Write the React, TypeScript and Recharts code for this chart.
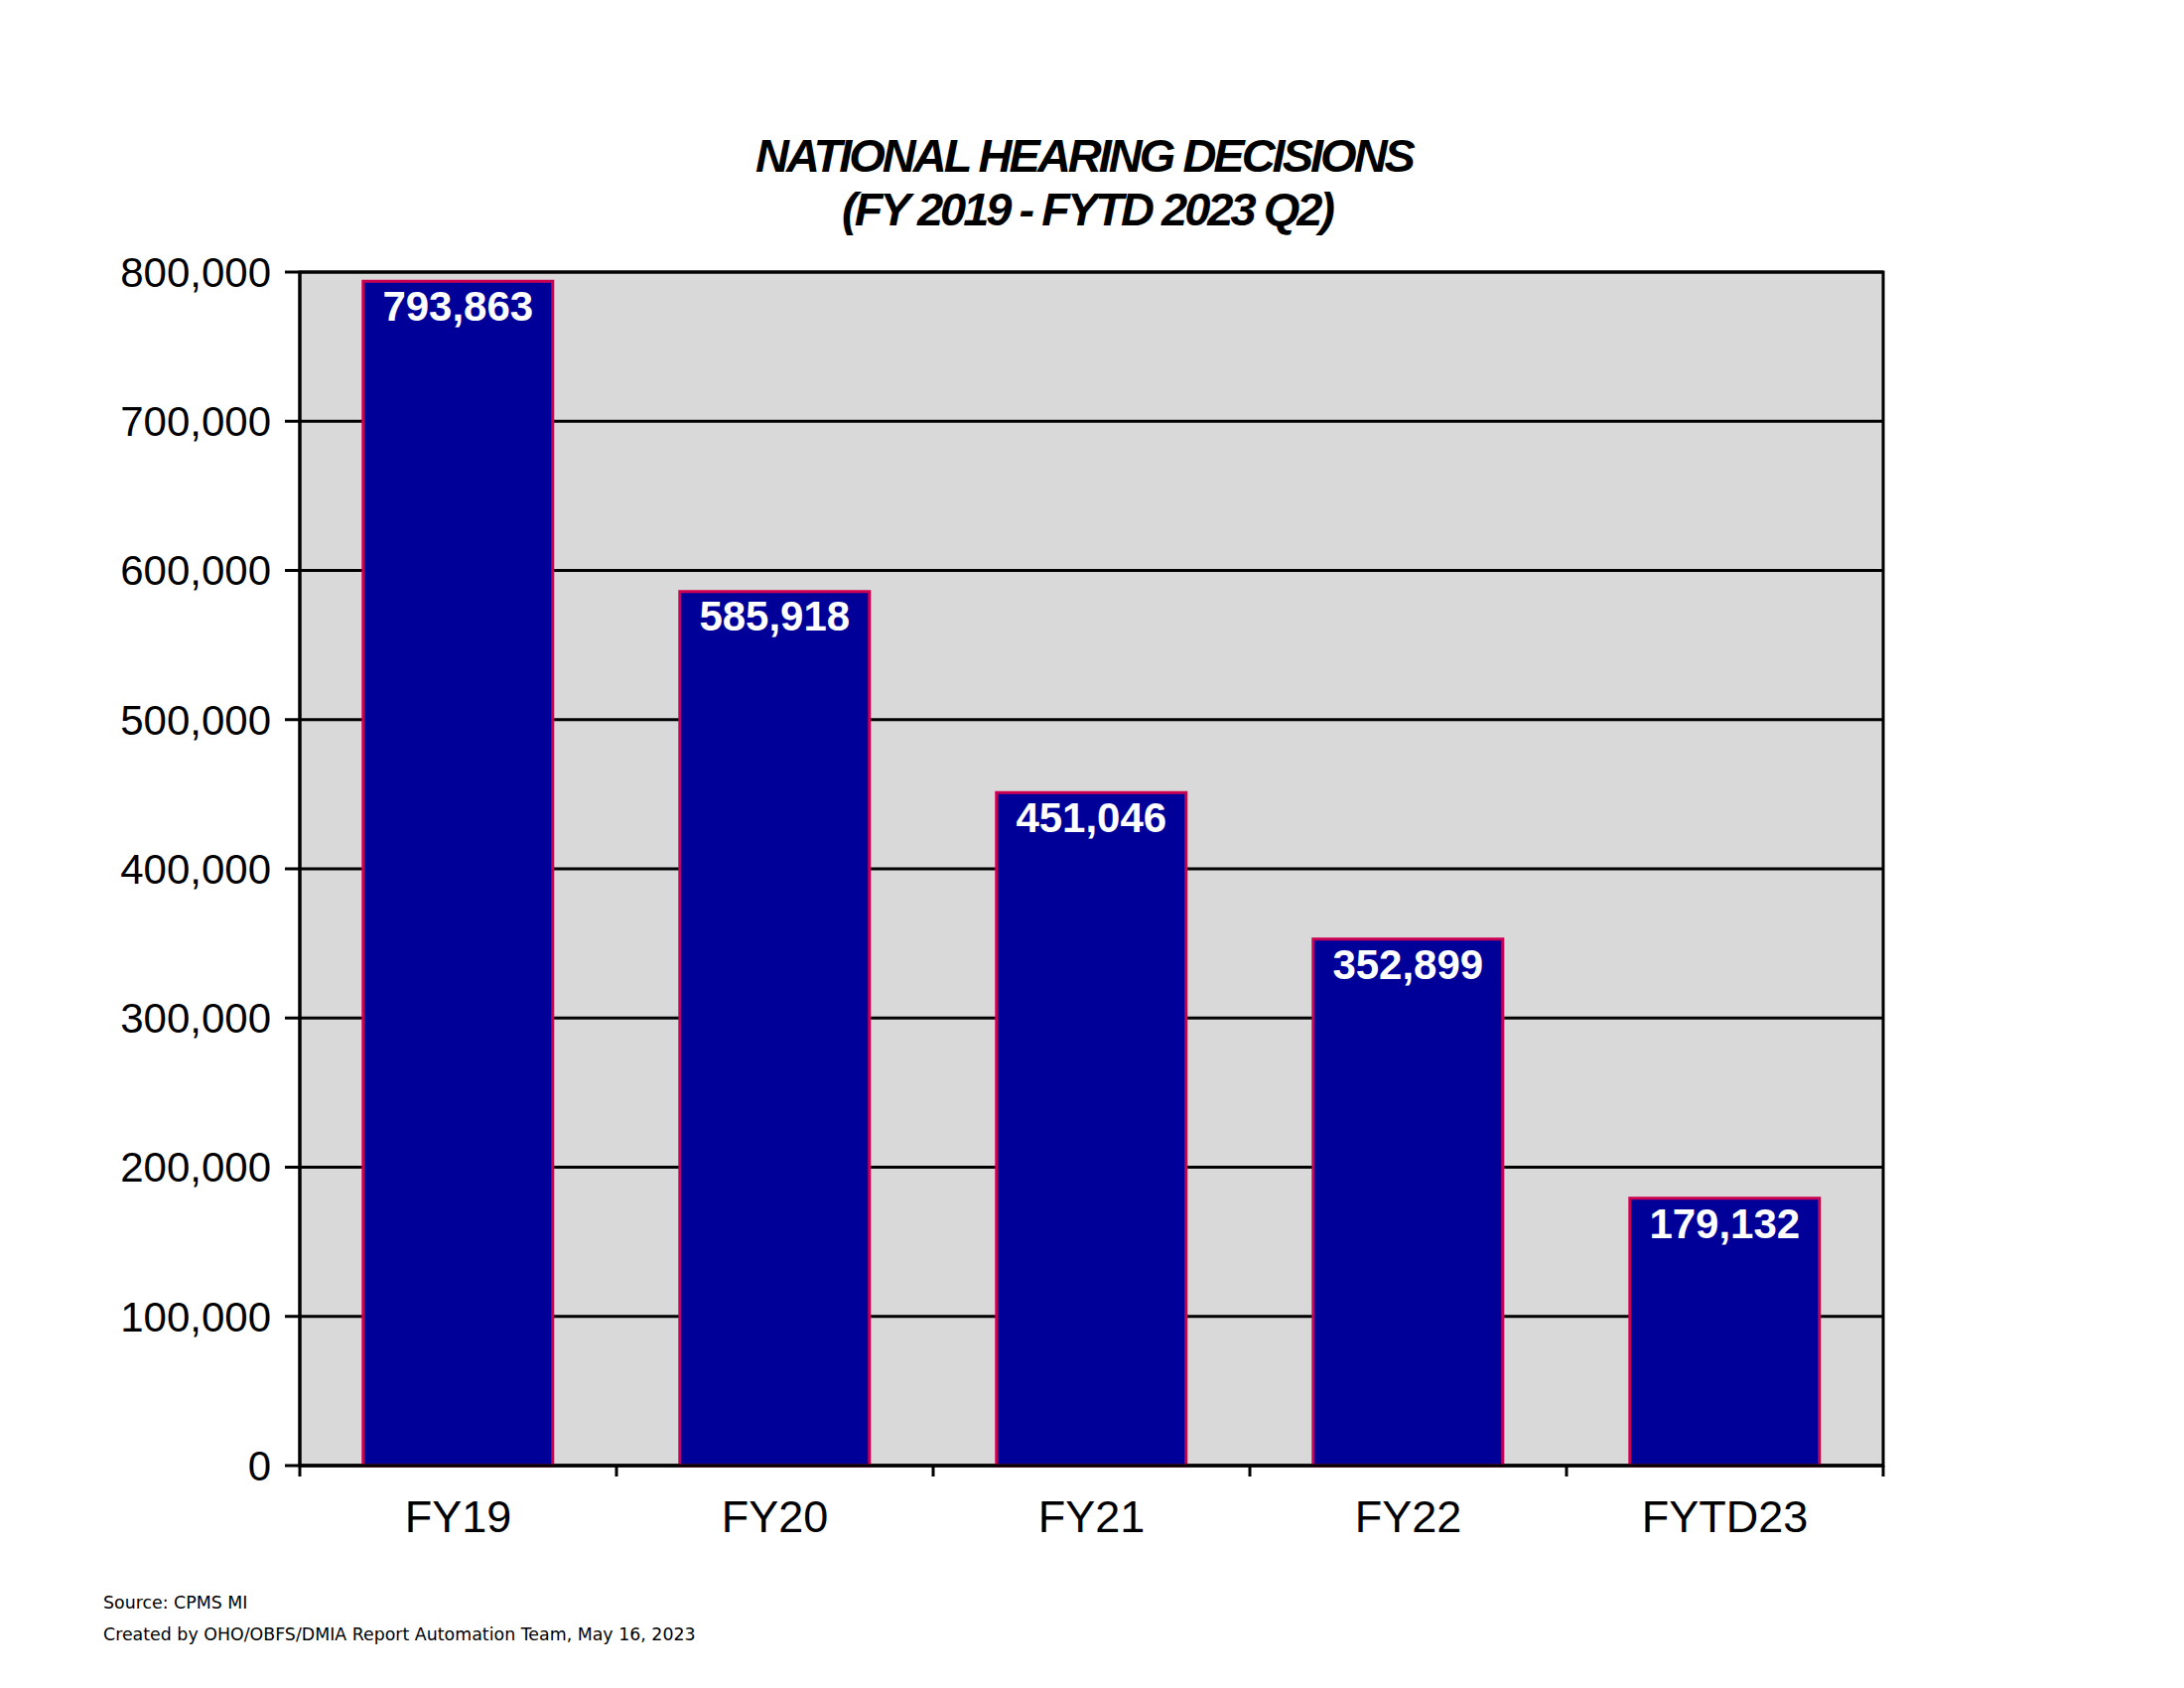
import React from 'react';
import { BarChart, Bar, XAxis, YAxis, CartesianGrid, LabelList, ReferenceArea } from 'recharts';

const categories = ['FY19', 'FY20', 'FY21', 'FY22', 'FYTD23'];
const decisions = [793863, 585918, 451046, 352899, 179132];
const yTicks = [0, 100000, 200000, 300000, 400000, 500000, 600000, 700000, 800000];
const titleLines = ['NATIONAL HEARING DECISIONS', '(FY 2019 - FYTD 2023 Q2)'];
const footerLines = ['Source: CPMS MI', 'Created by OHO/OBFS/DMIA Report Automation Team, May 16, 2023'];

const data = categories.map((c, i) => ({ name: c, value: decisions[i] }));

const fmt = (v: number) => v.toLocaleString('en-US');
const FONT = '"Liberation Sans", Arial, sans-serif';
const X_TICK_SIZE = 11;
const X_TICK_MARGIN = 24;

const CategoryTick = (props: any) => {
  const { x, y, payload, index, visibleTicksCount } = props;
  const half = payload && typeof payload.offset === 'number' ? payload.offset : 0;
  const axisY = y - X_TICK_SIZE - X_TICK_MARGIN;
  const last = visibleTicksCount ? index === visibleTicksCount - 1 : index === categories.length - 1;
  return (
    <g>
      {half > 0 && (
        <line x1={x - half} x2={x - half} y1={axisY} y2={axisY + X_TICK_SIZE} stroke="#000" strokeWidth={3} />
      )}
      {half > 0 && last && (
        <line x1={x + half} x2={x + half} y1={axisY} y2={axisY + X_TICK_SIZE} stroke="#000" strokeWidth={3} />
      )}
      <text x={x} y={y} dy="0.71em" textAnchor="middle" fill="#000" fontSize={45} fontFamily={FONT}>
        {payload.value}
      </text>
    </g>
  );
};

export default function App() {
  return (
    <div style={{ position: 'absolute', left: 0, top: 0, width: 2200, height: 1700, background: '#fff' }}>
      <BarChart
        width={2200}
        height={1700}
        data={data}
        margin={{ top: 274, right: 303, left: 0, bottom: 124 }}
        barCategoryGap="20%"
      >
        <CartesianGrid vertical={false} stroke="#000" strokeWidth={3} fill="#D9D9D9" fillOpacity={1} />
        <ReferenceArea y1={0} y2={800000} fill="none" stroke="#000" strokeWidth={3} ifOverflow="visible" />
        <XAxis
          dataKey="name"
          height={100}
          tickLine={false}
          tickSize={X_TICK_SIZE}
          tickMargin={X_TICK_MARGIN}
          axisLine={{ stroke: '#000', strokeWidth: 3 }}
          tick={<CategoryTick />}
          interval={0}
        />
        <YAxis
          width={302}
          domain={[0, 800000]}
          ticks={yTicks}
          tickFormatter={fmt}
          tickSize={15}
          tickMargin={14}
          tickLine={{ stroke: '#000', strokeWidth: 3 }}
          axisLine={{ stroke: '#000', strokeWidth: 3 }}
          tick={{ fill: '#000', fontSize: 42, fontFamily: FONT }}
          interval={0}
        />
        <Bar dataKey="value" fill="#000099" stroke="#CC0052" strokeWidth={3} isAnimationActive={false}>
          <LabelList
            dataKey="value"
            position="insideTop"
            offset={10}
            formatter={(v: any) => fmt(Number(v))}
            fill="#fff"
            fontSize={42}
            fontWeight="bold"
            fontFamily={FONT}
          />
        </Bar>
      </BarChart>
      <svg
        width={2200}
        height={1700}
        style={{ position: 'absolute', left: 0, top: 0, pointerEvents: 'none' }}
      >
        <text x={1092} y={173} textAnchor="middle" fontFamily={FONT} fontWeight="bold" fontStyle="italic" fontSize={47} letterSpacing={-3} fill="#000">
          {titleLines[0]}
        </text>
        <text x={1095} y={227} textAnchor="middle" fontFamily={FONT} fontWeight="bold" fontStyle="italic" fontSize={47} letterSpacing={-3} fill="#000">
          {titleLines[1]}
        </text>
        <text x={104} y={1620} fontFamily='"DejaVu Sans", Verdana, sans-serif' fontSize={17.4} fill="#000">
          {footerLines[0]}
        </text>
        <text x={104} y={1652} fontFamily='"DejaVu Sans", Verdana, sans-serif' fontSize={17.4} fill="#000">
          {footerLines[1]}
        </text>
      </svg>
    </div>
  );
}
